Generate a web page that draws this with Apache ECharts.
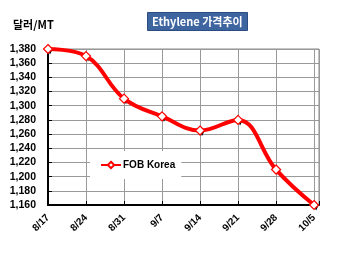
<!DOCTYPE html>
<html><head><meta charset="utf-8">
<script src="https://cdn.jsdelivr.net/npm/echarts@6/dist/echarts.min.js"></script>
<style>html,body{margin:0;padding:0;background:#fff}#c{width:350px;height:253px}</style>
</head><body><div id="c"></div>
<script>
const categories = ['8/17','8/24','8/31','9/7','9/14','9/21','9/28','10/5'];
const fobKorea = [1380, 1370, 1310, 1285, 1265, 1280, 1210, 1160];
const yTicks = {min: 1160, max: 1380, interval: 20};
const seriesName = 'FOB Korea';
const titleText = 'Ethylene 가격추이';
const unitText = '달러/MT';

const pts = fobKorea.map((v, i) => [i, v]);
const FONT = 'Liberation Sans, Arial, sans-serif';
const chart = echarts.init(document.getElementById('c'), null, {renderer: 'canvas'});
chart.setOption({
  animation: false,
  backgroundColor: '#fff',
  title: [
    {text: titleText, left: 147, top: 12, backgroundColor: '#3F65A1', borderColor: '#2B4C80', borderWidth: 1,
     padding: [4, 5, 4, 5],
     textStyle: {color: '#fff', fontSize: 11, fontWeight: 'bold', fontFamily: 'Noto Sans CJK KR, sans-serif'}},
    {text: unitText, left: 13, top: 19, padding: 0,
     textStyle: {color: '#000', fontSize: 11, fontWeight: 'bold', fontFamily: 'Noto Sans CJK KR, sans-serif'}}
  ],
  legend: {
    data: [seriesName], left: 90, top: 151, backgroundColor: '#fff', padding: [9, 6, 9, 10],
    itemWidth: 20, itemHeight: 8, itemGap: 2,
    textStyle: {fontSize: 10, fontWeight: 'bold', fontFamily: FONT, color: '#000', padding: [0, 0, 0, -3]}
  },
  grid: {left: 48, right: 31, top: 49, bottom: 48, show: true, borderColor: '#888', borderWidth: 1},
  xAxis: {
    type: 'value', min: 0, max: 7.13, interval: 1,
    axisLine: {lineStyle: {color: '#000', width: 2}},
    axisTick: {inside: true, length: 4, lineStyle: {color: '#000'}},
    splitLine: {show: true, lineStyle: {color: '#999', width: 1}},
    axisLabel: {rotate: 45, margin: 11, fontSize: 10, fontWeight: 'bold', fontFamily: FONT, color: '#000',
      formatter: v => Number.isInteger(v) ? (categories[v] || '') : ''}
  },
  yAxis: {
    type: 'value', min: yTicks.min, max: yTicks.max, interval: yTicks.interval,
    axisLine: {show: true, lineStyle: {color: '#000', width: 2}},
    axisTick: {show: true, inside: true, length: 4, lineStyle: {color: '#000'}},
    splitLine: {show: true, lineStyle: {color: '#999', width: 1}},
    axisLabel: {margin: 12, fontSize: 10.5, fontWeight: 'bold', fontFamily: FONT, color: '#000',
      formatter: v => v.toLocaleString('en-US')}
  },
  series: [
    {name: 'shadow', type: 'line', data: pts, z: 1, lineStyle: {width: 0, opacity: 0},
     symbol: 'triangle', symbolSize: 5, symbolRotate: 180, symbolOffset: [2, 3],
     itemStyle: {color: '#000'}, silent: true},
    {name: seriesName, type: 'line', data: pts, z: 3, smooth: 0.4,
     lineStyle: {color: '#FF0000', width: 4},
     symbol: 'diamond', symbolSize: 9, showAllSymbol: true,
     itemStyle: {color: '#fff', borderColor: '#FF0000', borderWidth: 1.2}}
  ]
});
</script></body></html>
